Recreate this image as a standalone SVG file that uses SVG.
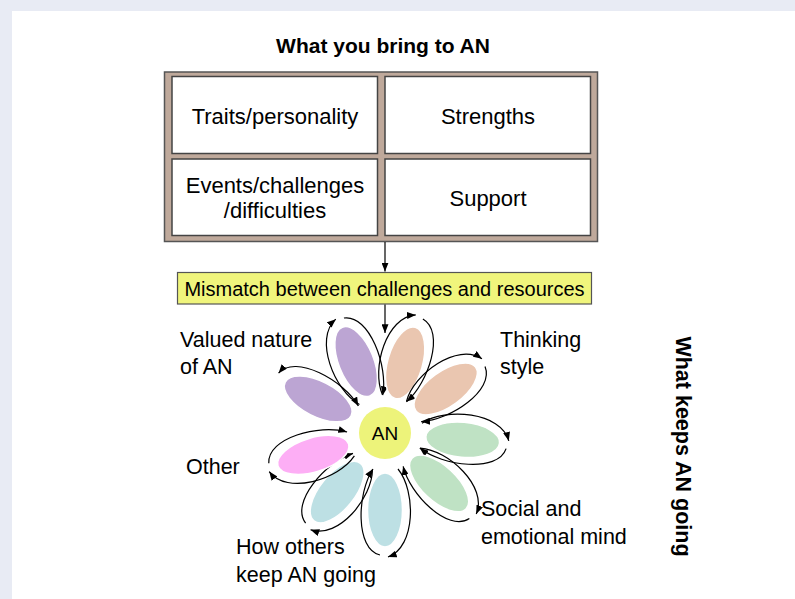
<svg xmlns="http://www.w3.org/2000/svg" width="795" height="599" viewBox="0 0 795 599">
<style>
  .t { font-family: "Liberation Sans", Arial, sans-serif; fill: #000; }
  .cell { fill: #fff; stroke: #444; stroke-width: 1.5; }
  .arc { fill: none; stroke: #000; stroke-width: 1.2; }
  .petal { stroke: #fff; stroke-width: 1.5; }
</style>
<defs>
  <marker id="ah" viewBox="0 0 10 8" refX="10" refY="4" markerWidth="9" markerHeight="7" markerUnits="userSpaceOnUse" orient="auto-start-reverse">
    <path d="M0,0 L10,4 L0,8 z" fill="#000"/>
  </marker>
</defs>
<rect x="0" y="0" width="795" height="599" fill="#e8ebf4"/>
<rect x="12" y="11" width="783" height="588" fill="#fff"/>

<text class="t" x="383" y="53" font-size="21" font-weight="bold" text-anchor="middle">What you bring to AN</text>

<g id="bring-box">
  <rect x="164.5" y="72" width="433" height="169.5" fill="#bfa99b" stroke="#555" stroke-width="1.5"/>
  <g id="traits">
    <rect class="cell" x="172" y="76.5" width="205.5" height="77"/>
    <text class="t" x="275" y="124" font-size="22" text-anchor="middle">Traits/personality</text>
  </g>
  <g id="strengths">
    <rect class="cell" x="385" y="76.5" width="205.5" height="77"/>
    <text class="t" x="488" y="124" font-size="22" text-anchor="middle">Strengths</text>
  </g>
  <g id="events">
    <rect class="cell" x="172" y="159" width="205.5" height="76.5"/>
    <text class="t" x="275" y="193" font-size="22" text-anchor="middle">Events/challenges</text>
    <text class="t" x="275" y="218" font-size="22" text-anchor="middle">/difficulties</text>
  </g>
  <g id="support">
    <rect class="cell" x="385" y="159" width="205.5" height="76.5"/>
    <text class="t" x="488" y="206" font-size="22" text-anchor="middle">Support</text>
  </g>
</g>

<g id="mismatch">
  <rect x="177.5" y="272.5" width="414" height="31.5" fill="#f0f57c" stroke="#555" stroke-width="1.2"/>
  <text class="t" x="384.5" y="295.5" font-size="20" text-anchor="middle">Mismatch between challenges and resources</text>
</g>

<g id="connectors">
  <line class="arc" x1="385" y1="242" x2="385" y2="271.5" marker-end="url(#ah)"/>
  <line class="arc" x1="385" y1="304.5" x2="385" y2="333" marker-end="url(#ah)"/>
</g>

<g id="petal-valued-1" transform="translate(385,433) rotate(-112)">
  <ellipse class="petal" cx="77" cy="0" rx="37" ry="17.5" fill="#bca5d3"/>
  <path class="arc" d="M 36,-13 C 58,-31 114,-31 124,-3" marker-end="url(#ah)"/>
  <path class="arc" d="M 122,5 C 116,30 60,28 36,12" marker-end="url(#ah)"/>
</g>
<g id="petal-thinking-1" transform="translate(385,433) rotate(-74)">
  <ellipse class="petal" cx="73" cy="0" rx="37" ry="17.5" fill="#eac6b0"/>
  <path class="arc" d="M 36,-13 C 58,-31 112,-31 122,-3" marker-end="url(#ah)"/>
  <path class="arc" d="M 120,5 C 114,30 60,28 36,12" marker-end="url(#ah)"/>
</g>
<g id="petal-thinking-2" transform="translate(385,433) rotate(-36)">
  <ellipse class="petal" cx="75" cy="0" rx="37" ry="17.5" fill="#eac6b0"/>
  <path class="arc" d="M 36,-13 C 58,-31 112,-31 122,-3" marker-end="url(#ah)"/>
  <path class="arc" d="M 120,5 C 114,30 60,28 36,12" marker-end="url(#ah)"/>
</g>
<g id="petal-social-1" transform="translate(385,433) rotate(5)">
  <ellipse class="petal" cx="78" cy="0" rx="37" ry="17.5" fill="#bfe2c4"/>
  <path class="arc" d="M 36,-13 C 58,-31 114,-31 124,-3" marker-end="url(#ah)"/>
  <path class="arc" d="M 122,5 C 116,30 60,28 36,12" marker-end="url(#ah)"/>
</g>
<g id="petal-social-2" transform="translate(385,433) rotate(43)">
  <ellipse class="petal" cx="74" cy="0" rx="37" ry="17.5" fill="#bfe2c4"/>
  <path class="arc" d="M 36,-13 C 58,-31 112,-31 122,-3" marker-end="url(#ah)"/>
  <path class="arc" d="M 120,5 C 114,30 60,28 36,12" marker-end="url(#ah)"/>
</g>
<g id="petal-others-1" transform="translate(385,433) rotate(90)">
  <ellipse class="petal" cx="77" cy="0" rx="37" ry="17.5" fill="#bde0e4"/>
  <path class="arc" d="M 36,-13 C 58,-31 114,-31 124,-3" marker-end="url(#ah)"/>
  <path class="arc" d="M 122,5 C 116,30 60,28 36,12" marker-end="url(#ah)"/>
</g>
<g id="petal-others-2" transform="translate(385,433) rotate(129)">
  <ellipse class="petal" cx="76" cy="0" rx="37" ry="17.5" fill="#bde0e4"/>
  <path class="arc" d="M 36,-13 C 58,-31 112,-31 122,-3" marker-end="url(#ah)"/>
  <path class="arc" d="M 120,5 C 114,30 60,28 36,12" marker-end="url(#ah)"/>
</g>
<g id="petal-other" transform="translate(385,433) rotate(163)">
  <ellipse class="petal" cx="75" cy="0" rx="37" ry="17" fill="#fdaef5"/>
  <path class="arc" d="M 36,-13 C 58,-31 112,-31 122,-3" marker-end="url(#ah)"/>
  <path class="arc" d="M 120,5 C 114,30 60,28 36,12" marker-end="url(#ah)"/>
</g>
<g id="petal-valued-2" transform="translate(385,433) rotate(-153)">
  <ellipse class="petal" cx="75" cy="0" rx="37" ry="17.5" fill="#bca5d3"/>
  <path class="arc" d="M 122,5 C 116,30 60,28 36,12" marker-start="url(#ah)" marker-end="url(#ah)"/>
</g>

<g id="an">
  <circle cx="385" cy="433" r="26" fill="#edf37a"/>
  <text class="t" x="385" y="440" font-size="19" text-anchor="middle">AN</text>
</g>

<g id="labels">
  <text class="t" x="180" y="347" font-size="21.5">Valued nature</text>
  <text class="t" x="180" y="374" font-size="21.5">of AN</text>
  <text class="t" x="500" y="347" font-size="21.5">Thinking</text>
  <text class="t" x="500" y="374" font-size="21.5">style</text>
  <text class="t" x="186" y="474" font-size="21.5">Other</text>
  <text class="t" x="481" y="516" font-size="21.5">Social and</text>
  <text class="t" x="481" y="544" font-size="21.5">emotional mind</text>
  <text class="t" x="236" y="554" font-size="21.5">How others</text>
  <text class="t" x="236" y="582" font-size="21.5">keep AN going</text>
</g>

<text class="t" transform="translate(676,446.5) rotate(90)" font-size="21.5" font-weight="bold" text-anchor="middle">What keeps AN going</text>
</svg>
